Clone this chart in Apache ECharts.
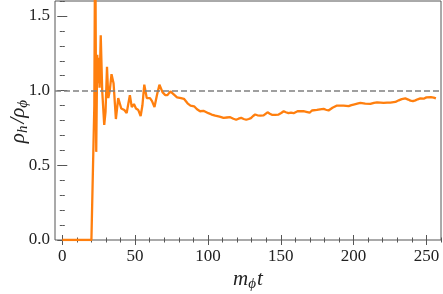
<!DOCTYPE html>
<html>
<head>
<meta charset="utf-8">
<script src="https://cdn.jsdelivr.net/npm/echarts@6/dist/echarts.min.js"></script>
<style>html,body{margin:0;padding:0;background:#fff}#c{width:443px;height:294px}</style>
</head>
<body>
<div id="c"></div>
<script>
// time values (m_phi t)
const tValues = [0, 5, 10, 15, 20, 21.3, 22.0, 22.6, 23.3, 24.0, 24.5, 25.0, 25.6, 26.4, 27.4, 28.8, 29.7, 30.7, 31.6, 32.6, 33.8, 35.2, 36.8, 38.4, 40.5, 42.6, 44.2, 46.4, 47.7, 49.2, 50.6, 52.2, 53.8, 55.0, 56.3, 58.0, 60.2, 61.6, 63.3, 65.0, 66.7, 68.8, 70.6, 72.2, 74.2, 76.5, 78.8, 81.5, 83.5, 86, 88, 90.5, 92.5, 94.6, 96.9, 100.3, 102.5, 105, 108, 110.7, 113, 115.3, 117.5, 119.4, 121, 122.8, 124.5, 126.3, 128, 129.5, 131, 132.4, 134, 135.9, 138.2, 140.9, 142.5, 143.9, 146, 148.5, 150.3, 152, 153.5, 155.3, 157, 158.8, 161.5, 163.5, 165.6, 167.5, 169.8, 171.4, 174.8, 177, 179.4, 181, 182.8, 185.5, 188.6, 191, 193.1, 196.6, 198.5, 200, 202.5, 204.6, 208, 211.5, 214, 216.1, 218.5, 220.6, 223, 225.2, 228.7, 231, 233, 235.5, 237.5, 239, 240.7, 242.4, 244, 245.8, 248.1, 250, 251.3, 253, 255, 256.5];
// energy ratio rho_h / rho_phi
const ratioValues = [0, 0, 0, 0, 0, 0.01, 0.9, 2.2, 0.59, 1.24, 1.05, 1.22, 1.02, 1.37, 1.0, 0.77, 0.86, 1.16, 0.95, 1.0, 1.11, 1.05, 0.81, 0.95, 0.88, 0.87, 0.85, 0.97, 0.89, 0.91, 0.88, 0.87, 0.83, 0.9, 1.04, 0.95, 0.95, 0.93, 0.89, 0.97, 1.04, 0.99, 0.97, 0.97, 0.995, 0.975, 0.955, 0.95, 0.945, 0.915, 0.9, 0.895, 0.875, 0.862, 0.865, 0.849, 0.84, 0.833, 0.826, 0.818, 0.82, 0.822, 0.812, 0.805, 0.812, 0.818, 0.81, 0.805, 0.81, 0.816, 0.83, 0.84, 0.835, 0.833, 0.834, 0.855, 0.845, 0.838, 0.838, 0.84, 0.85, 0.862, 0.855, 0.849, 0.852, 0.849, 0.862, 0.863, 0.862, 0.858, 0.852, 0.867, 0.871, 0.875, 0.878, 0.872, 0.867, 0.885, 0.9, 0.9, 0.9, 0.896, 0.903, 0.907, 0.913, 0.918, 0.913, 0.911, 0.918, 0.922, 0.92, 0.918, 0.92, 0.92, 0.924, 0.935, 0.943, 0.948, 0.94, 0.933, 0.93, 0.935, 0.942, 0.948, 0.946, 0.955, 0.96, 0.957, 0.953, 0.948];
const xMajorTicks = [0, 50, 100, 150, 200, 250];
const xMinorTicks = [0, 10, 20, 30, 40, 50, 60, 70, 80, 90, 100, 110, 120, 130, 140, 150, 160, 170, 180, 190, 200, 210, 220, 230, 240, 250, 260];
const yMajorTicks = [0, 0.5, 1.0, 1.5];
const yMinorTicks = [0, 0.1, 0.2, 0.3, 0.4, 0.5, 0.6, 0.7, 0.8, 0.9, 1.0, 1.1, 1.2, 1.3, 1.4, 1.5, 1.6];
const refLevel = 1.0;

const X_MIN = -5, X_MAX = 260, Y_MIN = 0, Y_MAX = 1.6;
const FONT = 'Liberation Serif';
const TICKCOL = '#555';

const gridRect = {left: 55, right: 2, top: 1, bottom: 54, containLabel: false, outerBoundsMode: 'none'};
function xAx(gridIndex, pos, ticks, len, labels) {
  return {
    type: 'value', gridIndex, position: pos, min: X_MIN, max: X_MAX,
    axisLine: {show: false}, splitLine: {show: false},
    axisTick: {show: true, inside: true, length: len, customValues: ticks, lineStyle: {color: TICKCOL, width: 1}},
    axisLabel: labels ? {show: true, customValues: ticks, fontFamily: FONT, fontSize: 17, color: '#222', margin: 8, formatter: v => String(v)} : {show: false}
  };
}
function yAx(gridIndex, pos, ticks, len, labels) {
  return {
    type: 'value', gridIndex, position: pos, min: Y_MIN, max: Y_MAX,
    axisLine: {show: false}, splitLine: {show: false},
    axisTick: {show: true, inside: true, length: len, customValues: ticks, lineStyle: {color: TICKCOL, width: 1}},
    axisLabel: labels ? {show: true, customValues: ticks, fontFamily: FONT, fontSize: 17, color: '#222', margin: 5, formatter: v => v.toFixed(1)} : {show: false}
  };
}

const xMain = xAx(0, 'bottom', xMajorTicks, 5, true);
xMain.name = '{i|m}{s|ϕ}{i|t}';
xMain.nameLocation = 'middle';
xMain.nameGap = 27;
xMain.nameMoveOverlap = false;
xMain.nameTextStyle = {rich: {
  i: {fontFamily: FONT, fontStyle: 'italic', fontSize: 21, color: '#222'},
  s: {fontFamily: FONT, fontStyle: 'italic', fontSize: 15, color: '#222', padding: [10, 1, 0, 0]}
}};
const yMain = yAx(0, 'left', yMajorTicks, 5, true);
yMain.name = '{i|ρ}{s|h}{i|/ρ}{s|ϕ}';
yMain.nameLocation = 'middle';
yMain.nameRotate = 90;
yMain.nameGap = 24;
yMain.nameMoveOverlap = false;
yMain.nameTextStyle = {rich: {
  i: {fontFamily: FONT, fontStyle: 'italic', fontSize: 21, color: '#222'},
  s: {fontFamily: FONT, fontStyle: 'italic', fontSize: 15, color: '#222', padding: [10, 2, 0, 0]}
}};

const option = {
  animation: false,
  backgroundColor: '#fff',
  grid: [
    Object.assign({show: true, borderColor: '#555', borderWidth: 1, backgroundColor: 'transparent'}, gridRect),
    Object.assign({show: false}, gridRect)
  ],
  xAxis: [
    xMain,
    xAx(0, 'top', xMajorTicks, 5, false),
    xAx(1, 'bottom', xMinorTicks, 2.5, false),
    xAx(1, 'top', xMinorTicks, 2.5, false)
  ],
  yAxis: [
    yMain,
    yAx(0, 'right', yMajorTicks, 5, false),
    yAx(1, 'left', yMinorTicks, 2.5, false),
    yAx(1, 'right', yMinorTicks, 2.5, false)
  ],
  series: [{
    type: 'line',
    xAxisIndex: 0, yAxisIndex: 0,
    data: tValues.map((t, i) => [t, ratioValues[i]]),
    showSymbol: false, symbol: 'none',
    clip: true,
    lineStyle: {color: '#ff7f0e', width: 2.3},
    z: 3,
    markLine: {
      silent: true, symbol: 'none', label: {show: false},
      lineStyle: {color: '#808080', type: [6, 3], width: 1.5},
      data: [{yAxis: refLevel}]
    }
  }]
};
const chart = echarts.init(document.getElementById('c'), null, {renderer: 'canvas'});
chart.setOption(option);
</script>
</body>
</html>
